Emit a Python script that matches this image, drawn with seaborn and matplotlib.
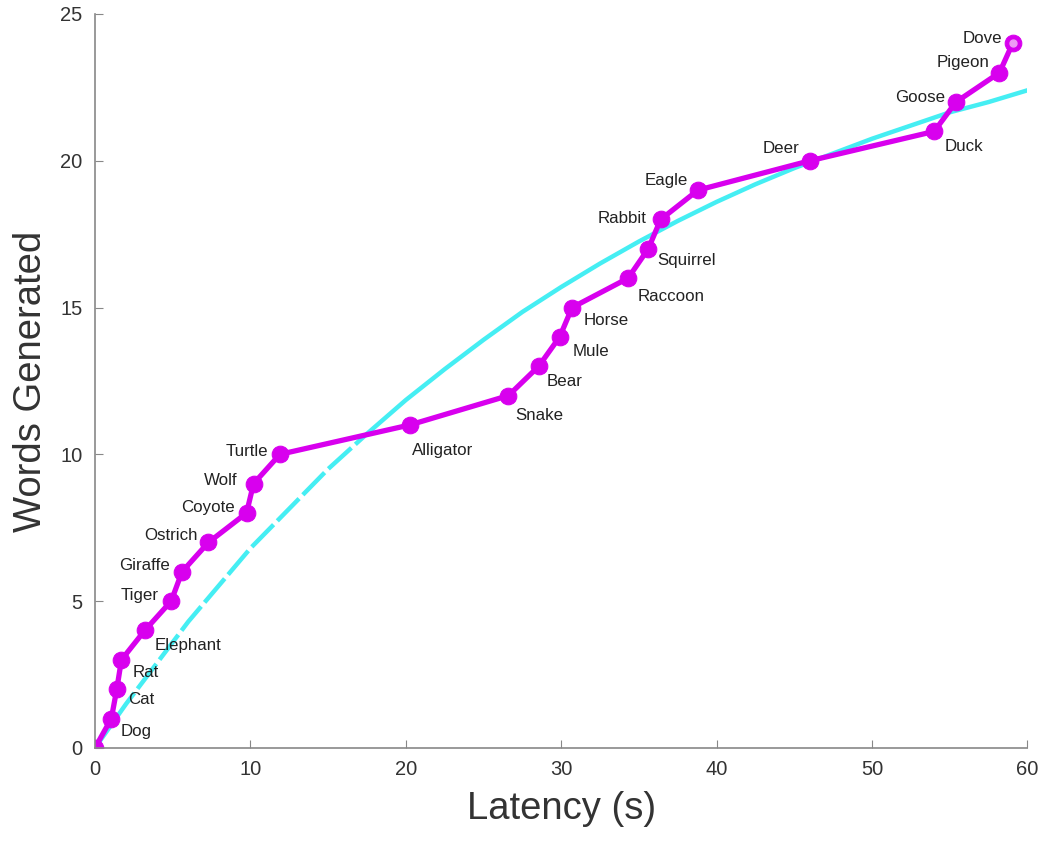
import matplotlib
matplotlib.use('Agg')

import numpy as np
import pandas as pd
import matplotlib.pyplot as plt
import seaborn as sns

# 数据：动物词汇生成顺序与潜伏期
animals = ["", "Dog", "Cat", "Rat", "Elephant", "Tiger", "Giraffe", "Ostrich", "Coyote",
           "Wolf", "Turtle", "Alligator", "Snake", "Bear", "Mule", "Horse", "Raccoon",
           "Squirrel", "Rabbit", "Eagle", "Deer", "Duck", "Goose", "Pigeon", "Dove"]
latency = [0.0, 1.05, 1.4, 1.7, 3.2, 4.9, 5.6, 7.3, 9.75, 10.2, 11.9, 20.25, 26.6,
           28.55, 29.9, 30.7, 34.3, 35.6, 36.4, 38.8, 46.0, 54.0, 55.4, 58.2, 59.05]
words = list(range(25))

# 拟合曲线
fit_x = [0, 2, 4, 6, 8, 10, 12.5, 15, 17.5, 20, 22.5, 25, 27.5, 30, 32.5, 35, 37.5,
         40, 42.5, 45, 47.5, 50, 52.5, 55, 57.5, 60]
fit_y = [0.0, 1.5, 2.9, 4.3, 5.55, 6.8, 8.15, 9.5, 10.7, 11.85, 12.9, 13.9, 14.85,
         15.7, 16.5, 17.25, 17.95, 18.6, 19.2, 19.75, 20.25, 20.75, 21.2, 21.65,
         22.0, 22.4]

# 标签偏移（像素），右侧标签左对齐，左侧标签右对齐
label_right = {"Dog", "Cat", "Rat", "Elephant", "Alligator", "Snake", "Bear", "Mule",
               "Horse", "Raccoon", "Squirrel", "Duck"}
offsets = {
    "Dog": (9, -13), "Cat": (11, -10), "Rat": (11, -13), "Elephant": (10, -15),
    "Tiger": (-13, 6), "Giraffe": (-12, 6), "Ostrich": (-11, 7), "Coyote": (-12, 6),
    "Wolf": (-16, 3), "Turtle": (-12, 3), "Alligator": (2, -26), "Snake": (7, -20),
    "Bear": (8, -15), "Mule": (13, -15), "Horse": (12, -13), "Raccoon": (10, -18),
    "Squirrel": (9, -12), "Rabbit": (-14, 1), "Eagle": (-10, 10), "Deer": (-10, 12),
    "Duck": (10, -15), "Goose": (-11, 5), "Pigeon": (-10, 10), "Dove": (-10, 5),
}

df = pd.DataFrame({"latency": latency, "words": words, "animal": animals})
fit_df = pd.DataFrame({"x": fit_x, "y": fit_y})

sns.set_style("ticks")
plt.rcParams['font.family'] = ['Liberation Sans', 'DejaVu Sans']

fig = plt.figure(figsize=(10.5, 8.47), dpi=100)
ax = fig.add_axes([0.0905, 0.117, 0.888, 0.8665])

cyan = '#45eef3'
purple = '#d800ee'

# 拟合曲线：前段虚线效果，后段实线
sns.lineplot(data=fit_df[fit_df.x <= 17.5], x="x", y="y", ax=ax, color=cyan,
             linewidth=3.2, sort=False, dashes=False)
ax.lines[-1].set_dashes((7, 1.2))
sns.lineplot(data=fit_df[fit_df.x >= 17.5], x="x", y="y", ax=ax, color=cyan,
             linewidth=3.2, sort=False)
sns.lineplot(data=df, x="latency", y="words", ax=ax, color=purple, linewidth=3.8,
             marker='o', markersize=12, markeredgecolor=purple, sort=False)
# 最后一个点为空心
ax.plot(latency[-1], words[-1], 'o', markersize=5, color='#ee9af5', zorder=5)

for name, x, y in zip(animals, latency, words):
    if not name:
        continue
    dx, dy = offsets[name]
    ha = 'left' if name in label_right else 'right'
    ax.annotate(name, (x, y), xytext=(dx, dy), textcoords='offset pixels',
                ha=ha, va='center', fontsize=12.2, color='#222222')

ax.set_xlim(0, 60)
ax.set_ylim(0, 25)
ax.set_xticks(range(0, 61, 10))
ax.set_yticks(range(0, 26, 5))
ax.set_xlabel("Latency (s)", fontsize=27.5, color='#333333', labelpad=8)
ax.set_ylabel("Words Generated", fontsize=27.5, color='#333333', labelpad=8)

for side in ['top', 'right']:
    ax.spines[side].set_visible(False)
for side in ['left', 'bottom']:
    ax.spines[side].set_color('#888888')
    ax.spines[side].set_linewidth(1.2)
ax.tick_params(direction='in', length=6, color='#888888', labelsize=14.5,
               labelcolor='#333333', pad=9)
for lbl in ax.get_xticklabels() + ax.get_yticklabels():
    lbl.set_clip_on(False)

fig.savefig("out.png", dpi=100)
plt.close(fig)
